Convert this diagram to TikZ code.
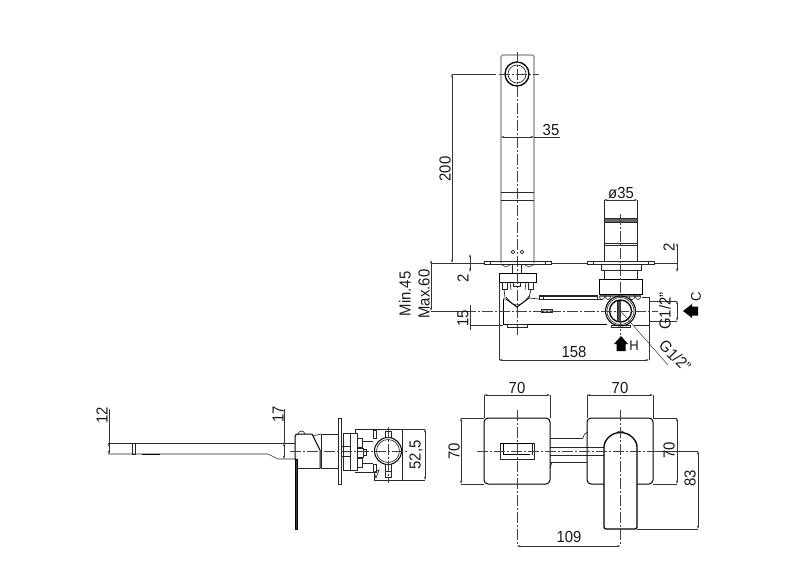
\documentclass[tikz,border=0pt]{standalone}
\usepackage{fontspec}
\setmainfont[FakeStretch=0.93]{Liberation Sans}
\usetikzlibrary{arrows.meta}
\tikzset{
 thinl/.style={line width=0.65pt,draw=black!85},
 bold/.style={line width=1pt,draw=black},
 extl/.style={line width=0.5pt,draw=black!80},
 diml/.style={line width=0.5pt,draw=black!80,{Stealth[length=3.5pt,width=2pt]}-{Stealth[length=3.5pt,width=2pt]}},
 centerl/.style={line width=0.6pt,draw=black!75,dash pattern=on 11pt off 2pt on 2pt off 2pt},
 lab/.style={font=\fontsize{16}{16}\selectfont,inner sep=0pt,text=black!90},
 rlab/.style={lab,rotate=90},
}
\begin{document}
\begin{tikzpicture}[x=1pt,y=-1pt]
\useasboundingbox (0,0) rectangle (800,583);
% ===== upper view: spout
\draw[thinl,rounded corners=1.5pt] (501,263)--(501,55)--(534,55)--(534,263);
\draw[thinl] (501,192)--(534,192) (501,200)--(534,200);
\draw[bold,line width=1.3pt] (517,74) circle (12);
\draw[thinl] (517,74) circle (9);
\draw[thinl] (513,252) circle (1.8) (522,252) circle (1.8);
\draw[centerl] (517,52)--(517,335);
\draw[centerl] (499,74)--(539,74);
% left plate & mount
\draw[thinl] (484,261.5) rectangle (551,264.5);
\draw[thinl] (490,261.5)--(490,264.5) (545,261.5)--(545,264.5);
\draw[thinl] (502,265)--(506,267)--(510,265) (525,265)--(529,267)--(533,265);
\draw[thinl] (512,264.5) rectangle (521,273);
\draw[bold] (499,273) rectangle (536,282);
\draw[thinl] (502,282) rectangle (507,289) (513,282) rectangle (520,286) (528,282) rectangle (533,289);
\draw[thinl] (504,289)--(505,298) (531,289)--(529,298) (510,282)--(511,290) (526,282)--(525,290);
\draw[bold] (506,299)--(517,307)--(529,298);
\draw[thinl] (506,297) .. controls (510,302) and (513,305) .. (517,305) .. controls (521,305) and (525,302) .. (529,296);
\draw[bold] (503,299)--(503,324);
\draw[thinl] (503,299)--(506,299) (529,298)--(539,299);
\draw[bold] (503,324)--(607,324);
\draw[thinl] (507,324) rectangle (527,327);
\draw[thinl] (539,295) rectangle (597,299);
\draw[thinl] (539,296.5)--(597,296.5) (543,295)--(543,299);
\draw[thinl] (597,299)--(603,299);
\draw[thinl,fill=black!30] (541,309.5) rectangle (552,312.5);
% right mixer
\draw[thinl] (587,261.5) rectangle (654,264.5);
\draw[thinl] (593,261.5)--(593,264.5) (648,261.5)--(648,264.5);
\draw[thinl] (604,200)--(604,261) (637.5,200)--(637.5,261);
\draw[thinl,fill=black!60] (604,218) rectangle (637.5,222);
\draw[thinl] (604,243)--(637.5,243) (604,245)--(637.5,245);
\draw[thinl] (601,264.5) rectangle (641,270);
\draw[thinl] (604,270)--(604,279) (637.5,270)--(637.5,279);
\draw[bold] (599,279) rectangle (642,294);
\draw[line width=2pt,black!55] (600,295.5)--(641,295.5);
\foreach \xx in {602,608,632,638}{\draw[thinl] (\xx,297) circle (2.5);}
\draw[thinl] (642,297)--(649,297)--(649,325)--(634,325);
\draw[thinl] (611,325) rectangle (630,327.5);
\draw[bold] (620.5,311) circle (15);
\draw[thinl] (620.5,311) circle (13.5);
\draw[bold,line width=1.3pt] (620.5,311) circle (11);
\draw[thinl,fill=black!70] (617,301) rectangle (620,321);
\draw[centerl] (620.5,214)--(620.5,335);
\draw[centerl] (431,311)--(658,311);
% ===== upper view: dimensions
\draw[extl] (496,74)--(452,74);
\draw[diml] (452,74)--(452,263);
\node[rlab] (t200) at (445,169) {200};
\draw[extl] (534,137)--(560,137);
\draw[diml] (501,137)--(534,137);
\node[lab] (t35) at (551,130) {35};
\draw[diml] (604,200)--(637.5,200);
\node[lab] (tphi) at (621,193) {ø35};
\draw[extl] (431,263)--(484,263) (551,263)--(587,263) (654,263)--(677,263);
\draw[diml] (470,254)--(470,272);
\node[rlab] (t2a) at (463,278) {2};
\draw[diml] (677,243)--(677,272);
\node[rlab] (t2b) at (669,247) {2};
\draw[diml] (431,260)--(431,311);
\node[rlab] (tmin) at (405,294) {Min.45};
\node[rlab] (tmax) at (424,294) {Max.60};
\draw[extl] (431,311)--(470,311) (470,325)--(503,325);
\draw[extl] (470,305)--(470,330);
\node[rlab] (t15) at (463,318) {15};
\draw[extl] (499,282)--(499,360) (649,325)--(649,360);
\draw[diml] (499,360)--(649,360);
\node[lab] (t158) at (574,352) {158};
\draw[extl] (649,301)--(677,301) (649,321)--(677,321);
\draw[diml] (677,301)--(677,321);
\node[rlab] (tg1) at (665,311) {G1/2"};
\fill[black] (683,311)--(692,304)--(692,306.5)--(698,306.5)--(698,315.5)--(692,315.5)--(692,318)--cycle;
\node[rlab,font=\fontsize{14}{14}\selectfont] (tc) at (696,297) {C};
\fill[black] (621,336)--(628,344)--(625.5,344)--(625.5,351)--(616.5,351)--(616.5,344)--(614,344)--cycle;
\node[lab,font=\fontsize{14}{14}\selectfont] (th) at (634,346) {H};
\coordinate (lstart) at (620.5,311);
\coordinate (lend) at (668,365);
\draw[extl] (lstart)--(lend);
\node[lab,rotate=-45] (tg2) at (675,356) {G1/2"};
% ===== side view
\draw[thinl] (108,443)--(295,443);
\draw[thinl] (108,454)--(268,454)--(278,459)--(296,459);
\draw[thinl,dash pattern=on 2pt off 2pt] (109,443)--(109,454);
\draw[thinl] (132,443) rectangle (135.5,454);
\draw[bold] (142,454)--(160,454);
\draw[bold] (295,459)--(295,437) .. controls (295,435) and (296,434) .. (298,434)--(312,434)--(320,450)--(320,468);
\draw[thinl] (298,434) .. controls (299,430) and (304,430) .. (305,434);
\draw[thinl] (296,468)--(320,468);
\draw[bold,fill=black!75] (295.5,459) rectangle (297.5,529);
\draw[thinl] (313,436)--(321,434) (320,468)--(321,468);
\draw[thinl] (321,434) rectangle (338,468);
\draw[thinl,fill=white] (338.5,418) rectangle (341.5,484);
\draw[thinl] (343,433) rectangle (350,470);
\draw[thinl] (350,433) rectangle (357,470);
\draw[thinl] (342,446)--(350,446) (342,456)--(350,456);
\draw[thinl] (357,438) rectangle (362,447);
\draw[thinl] (357,447)--(357,456);
\draw[thinl] (357,448) rectangle (363,457) (363,449)--(366,449)--(366,455)--(363,455);
\draw[thinl] (357,458) rectangle (362,467);
\draw[thinl] (355,433)--(355,429)--(402,429);
\draw[thinl] (355,472)--(374,472)--(374,480)--(425,480);
\draw[thinl] (362,441)--(373,441) (362,463)--(373,463);
\draw[thinl] (373,430) rectangle (376,438);
\draw[thinl] (373,464) rectangle (376,472);
\draw[thinl] (374,472)--(379,470)--(376,478)--cycle;
\draw[thinl] (402,429)--(402,480);
\draw[bold] (388,451) circle (13.5);
\draw[thinl] (388,451) circle (11.5);
\draw[thinl] (385,431) rectangle (391,437.5) (385,464.5) rectangle (391,471);
\draw[thinl] (385,471) rectangle (391,477);
\draw[centerl] (388,427)--(388,483);
\draw[centerl] (290,451)--(408,451);
% side dims
\draw[extl] (109,409)--(109,443) (284,409)--(284,443);
\draw[diml] (109,443)--(109,454);
\draw[diml] (284,443)--(284,459);
\node[rlab] (t12) at (102,415) {12};
\node[rlab] (t17) at (278,414) {17};
\draw[extl] (402,429)--(425,429);
\draw[diml] (425,429)--(425,480);
\node[rlab] (t525) at (416,455) {52,5};
% ===== front view
\draw[thinl] (550,438)--(583,438) (550,447)--(604,447) (550,455)--(604,455) (550,462)--(587,462);
\draw[thinl] (583,438) .. controls (584,434) and (586,432) .. (588,432);
\draw[thinl] (552,462) .. controls (551,464) and (551,466) .. (550,468);
\draw[bold,rounded corners=4pt] (484,418) rectangle (550,484);
\draw[bold,rounded corners=4pt] (604,484)--(587,484)--(587,418)--(653,418)--(653,484)--(637,484);
\draw[thinl] (500,443) rectangle (534,459);
\draw[bold] (503,443.5)--(503,454.5)--(530,454.5);
\draw[bold] (500,443)--(534,443);
\draw[thinl] (532,443)--(532,454.5);
\draw[bold,line width=1.3pt,rounded corners=2pt,fill=white] (604,529)--(604,449) arc[start angle=180,end angle=360,radius=16.5]--(637,529)--cycle;
\draw[thinl] (617,432.5) .. controls (618,430.5) and (623,430.5) .. (624,432.5);
\draw[centerl] (477,451)--(658,451);
\draw[extl] (658,451)--(698,451);
\draw[centerl] (517,410)--(517,546);
\draw[centerl] (620.5,410)--(620.5,546);
\draw[extl] (484,395)--(484,418) (550,395)--(550,418) (587,395)--(587,418) (653,395)--(653,418);
\draw[diml] (484,395)--(550,395);
\draw[diml] (587,395)--(653,395);
\node[lab] (t70a) at (517,388) {70};
\node[lab] (t70b) at (620,388) {70};
\draw[extl] (461,418)--(484,418) (461,484)--(484,484);
\draw[diml] (461,418)--(461,484);
\node[rlab] (t70c) at (454,451) {70};
\draw[extl] (653,418)--(677,418) (653,484)--(677,484);
\draw[diml] (677,418)--(677,484);
\node[rlab] (t70d) at (669,450) {70};
\draw[extl] (637,529)--(698,529);
\draw[diml] (698,451)--(698,529);
\node[rlab] (t83) at (690,478) {83};
\draw[diml] (517,546)--(620.5,546);
\node[lab] (t109) at (569,537) {109};
\end{tikzpicture}
\end{document}
